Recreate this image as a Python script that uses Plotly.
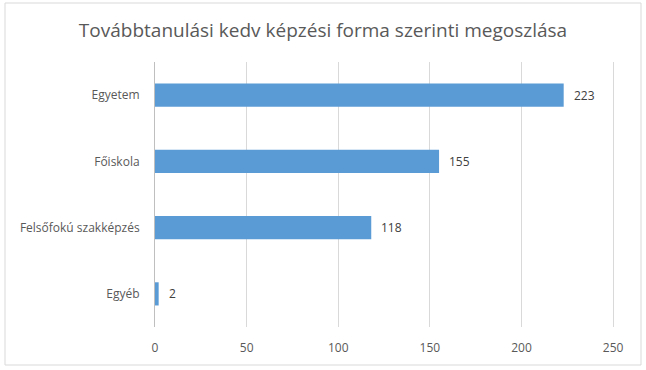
import plotly.graph_objects as go

categories = ["Egyetem", "Főiskola", "Felsőfokú szakképzés", "Egyéb"]
values = [223, 155, 118, 2]
x_ticks = [0, 50, 100, 150, 200, 250]

FONT = "Open Sans"
TXT = "#595959"

fig = go.Figure()
fig.add_trace(go.Bar(
    y=categories, x=values, orientation="h",
    marker=dict(color="#5b9bd5", line=dict(width=0)),
    width=0.35, hoverinfo="skip",
))
for c, v in zip(categories, values):
    fig.add_annotation(x=v, y=c, text=str(v), showarrow=False,
                       xanchor="left", xshift=8,
                       font=dict(family=FONT, size=12, color="#404040"))

fig.update_layout(
    width=646, height=370,
    margin=dict(l=155, r=31, t=62, b=43),
    paper_bgcolor="white", plot_bgcolor="white",
    showlegend=False,
    title=dict(text="Továbbtanulási kedv képzési forma szerinti megoszlása",
               x=0.5, xanchor="center", y=0.918, yanchor="middle",
               font=dict(family=FONT, size=19, color=TXT)),
    xaxis=dict(range=[0, 251], tickvals=x_ticks, showgrid=True,
               gridcolor="#d9d9d9", gridwidth=1, zeroline=False,
               showline=False, ticks="", ticklabelstandoff=12,
               tickfont=dict(family=FONT, size=12, color=TXT)),
    yaxis=dict(categoryorder="array", categoryarray=categories,
               autorange="reversed", showgrid=False, zeroline=False,
               showline=True, linecolor="#bfbfbf", linewidth=1,
               ticks="", ticklabelstandoff=12,
               tickfont=dict(family=FONT, size=12, color=TXT)),
    shapes=[dict(type="rect", xref="paper", yref="paper",
                 x0=-150/460, x1=486/460, y0=-38/265, y1=1+59/265,
                 line=dict(color="#d9d9d9", width=1))],
)

fig.write_html("out.html")
